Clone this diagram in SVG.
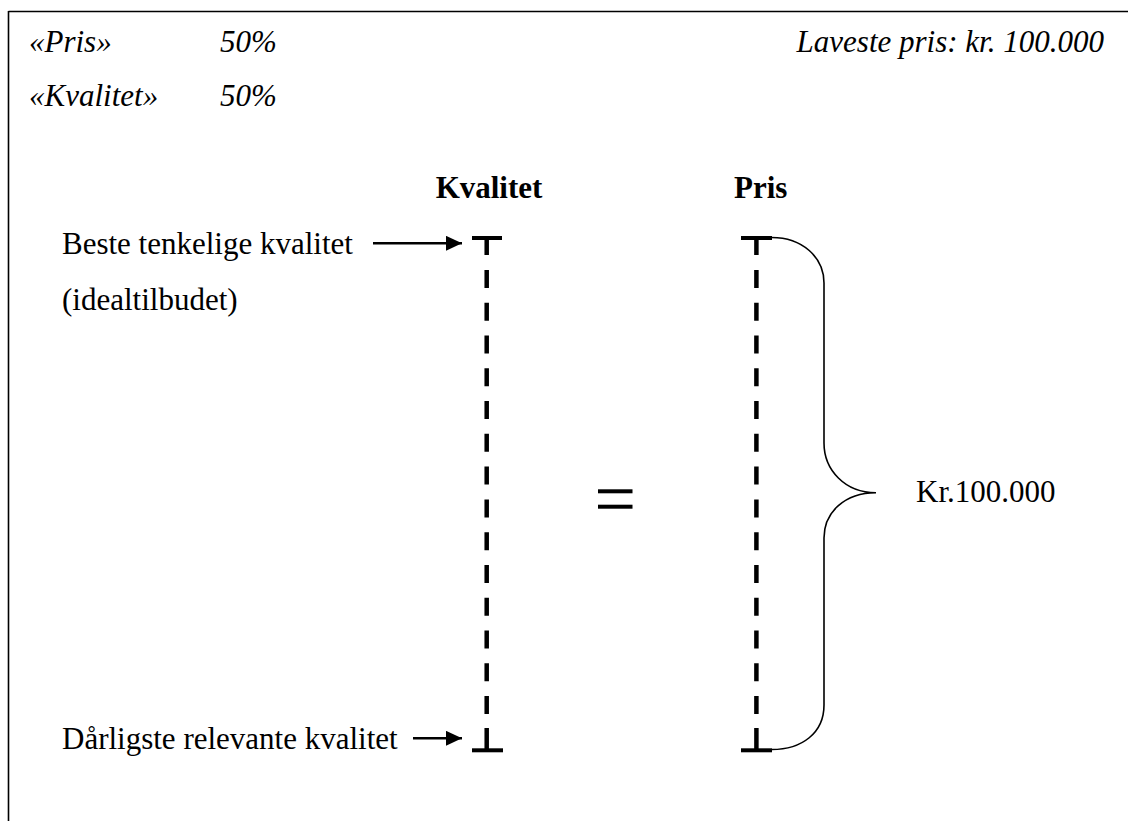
<svg xmlns="http://www.w3.org/2000/svg" width="1128" height="821" viewBox="0 0 1128 821">
<style>
text{font-family:"Liberation Serif","Times New Roman",serif;font-size:31px;fill:#000}
.it{font-style:italic}
.b{font-weight:bold}
.ax{stroke:#000;stroke-width:4.5;fill:none}
.bar{stroke:#000;stroke-width:4;fill:none}
.dash{stroke:#000;stroke-width:4.5;stroke-dasharray:18 14.77;fill:none}
.thin{stroke:#000;stroke-width:1.6;fill:none}
.arr{stroke:#000;stroke-width:2.6;fill:none}
</style>
<defs>
<marker id="ah" markerWidth="16" markerHeight="15" refX="16" refY="7.5" orient="auto" markerUnits="userSpaceOnUse">
<path d="M0,0 L16,7.5 L0,15 Z" fill="#000"/>
</marker>
</defs>
<rect width="1128" height="821" fill="#fff"/>
<g id="frame">
<line x1="8.5" y1="11.5" x2="1128" y2="11.5" stroke="#000" stroke-width="1.6"/>
<line x1="8.5" y1="11" x2="8.5" y2="821" stroke="#000" stroke-width="1.6"/>
</g>
<g id="header">
<text class="it" x="29" y="52">«Pris»</text>
<text class="it" x="220" y="52">50%</text>
<text class="it" x="1104" y="52" text-anchor="end">Laveste pris: kr. 100.000</text>
<text class="it" x="29" y="106">«Kvalitet»</text>
<text class="it" x="220" y="106">50%</text>
</g>
<g id="kvalitet-axis">
<text class="b" x="489" y="198" text-anchor="middle">Kvalitet</text>
<line class="bar" x1="472" y1="238" x2="502" y2="238"/>
<line class="ax" x1="486.7" y1="238" x2="486.7" y2="255"/>
<line class="dash" x1="486.7" y1="270" x2="486.7" y2="714"/>
<line class="ax" x1="486.7" y1="728" x2="486.7" y2="750"/>
<line class="bar" x1="472" y1="750.3" x2="503" y2="750.3"/>
</g>
<g id="pris-axis">
<text class="b" x="734" y="198">Pris</text>
<line class="bar" x1="741" y1="238" x2="772" y2="238"/>
<line class="ax" x1="756.4" y1="238" x2="756.4" y2="255"/>
<line class="dash" x1="756.4" y1="270" x2="756.4" y2="714"/>
<line class="ax" x1="756.4" y1="728" x2="756.4" y2="750"/>
<line class="bar" x1="741" y1="750.3" x2="772" y2="750.3"/>
</g>
<g id="brace">
<path class="thin" d="M771.7,237.5 C802,237.5 824,257 824,283 L824,443 C824,470 845,492.7 876,492.7 C845,492.7 824,512 824,538 L824,705 C824,733 802,749.5 771.7,749.5"/>
<text x="916" y="502">Kr.100.000</text>
</g>
<g id="equals">
<rect x="598" y="489.3" width="34.5" height="4" fill="#000"/>
<rect x="598" y="504.7" width="34.5" height="4" fill="#000"/>
</g>
<g id="labels">
<text x="62" y="254">Beste tenkelige kvalitet</text>
<text x="62" y="310">(idealtilbudet)</text>
<text x="62" y="749">Dårligste relevante kvalitet</text>
</g>
<g id="connectors">
<line class="arr" x1="373" y1="243.3" x2="462" y2="243.3" marker-end="url(#ah)"/>
<line class="arr" x1="413" y1="738.3" x2="462" y2="738.3" marker-end="url(#ah)"/>
</g>
</svg>
